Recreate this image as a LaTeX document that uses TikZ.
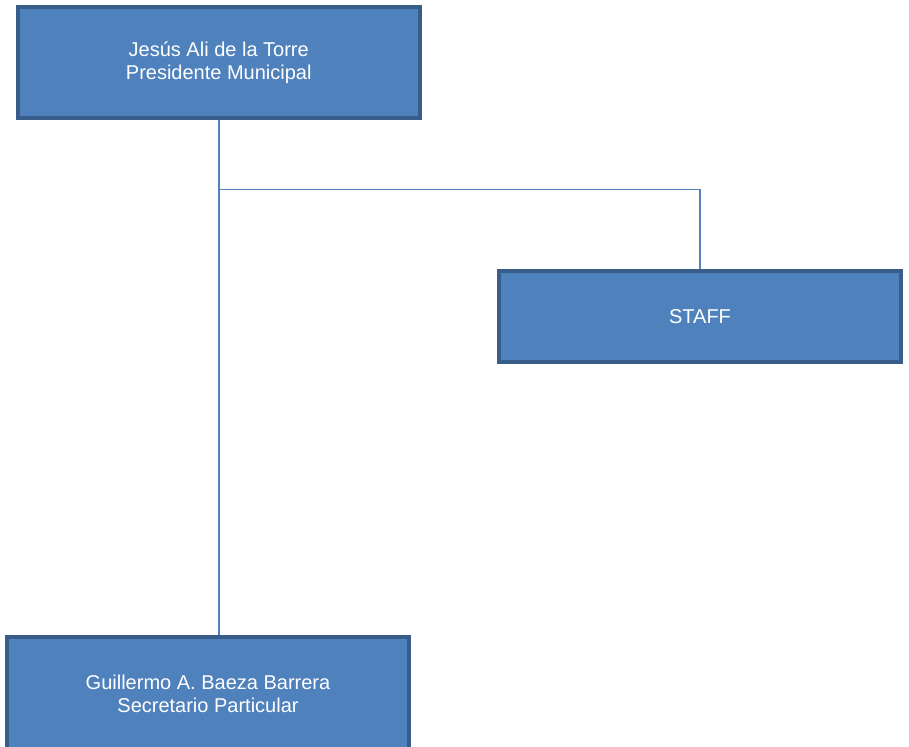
\documentclass[tikz,border=0pt]{standalone}
\usepackage{fontspec}
\setmainfont{Liberation Sans}
\usetikzlibrary{backgrounds}
\definecolor{boxfill}{HTML}{4F81BD}
\definecolor{boxedge}{HTML}{385D8A}
\definecolor{linkblue}{HTML}{4F81BD}
\begin{document}
\begin{tikzpicture}[x=1pt,y=1pt,
  orgbox/.style={draw=boxedge, fill=boxfill, line width=4pt, rectangle,
    inner sep=0pt, outer sep=0pt, text=white, align=center,
    font=\fontsize{20}{23}\selectfont},
  link/.style={draw=linkblue, line width=1.5pt}]
  \useasboundingbox[clip] (0,0) rectangle (909,746);
  % chart boxes
  \node[orgbox, minimum width=401.5pt, minimum height=111pt] (pres) at (218.75,683.5)
    {Jesús Ali de la Torre\\Presidente Municipal};
  \node[orgbox, minimum width=402pt, minimum height=91pt] (staff) at (700,429.5)
    {\raisebox{-2pt}{STAFF}};
  \node[orgbox, minimum width=402pt, minimum height=114pt] (sec) at (208,52)
    {Guillermo A. Baeza Barrera\\Secretario Particular};
  \coordinate (branch) at (219,556.5);
  % connectors behind the boxes
  \begin{pgfonlayer}{background}
    \draw[link] (219,0 |- pres.south) -- (219,0 |- sec.north);
    \draw[link] (branch) -| (staff.north);
  \end{pgfonlayer}
\end{tikzpicture}
\end{document}
